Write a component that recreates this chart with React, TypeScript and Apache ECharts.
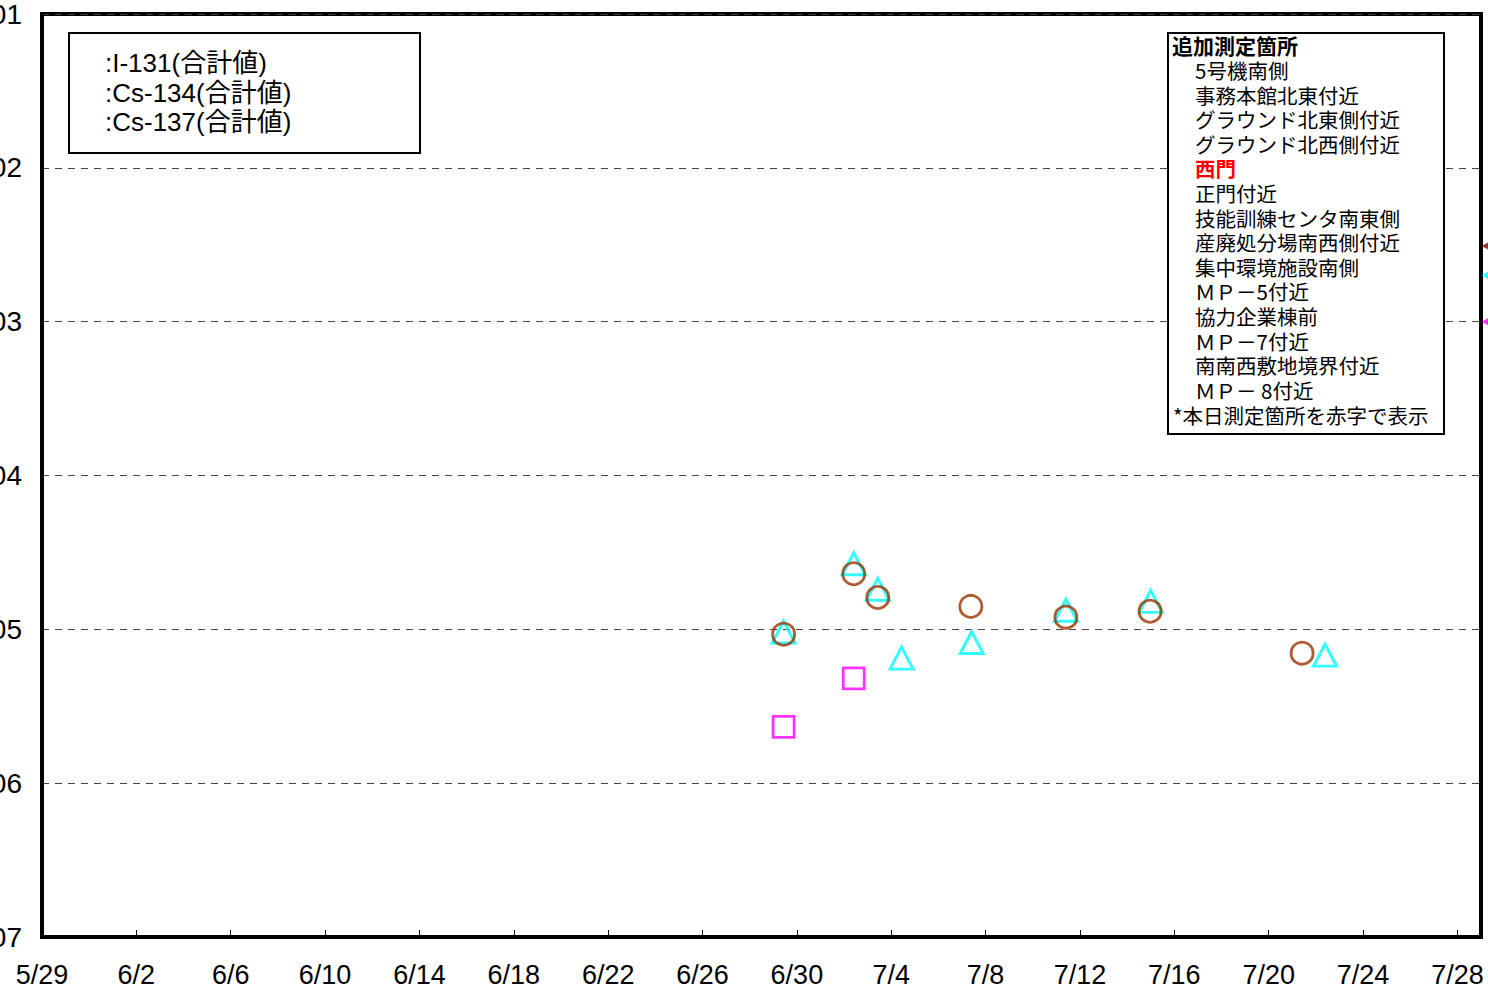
import { useEffect, useRef } from "react";
import * as echarts from "echarts";

// ---------- data ----------
const startDate = "2011-05-29";
const endDay = 61; // axis ends on 7/29
const tickStepDays = 4;
const yMin = 1e-7;
const yMax = 1e-1;

const nuclideNames = ["I-131(合計値)", "Cs-134(合計値)", "Cs-137(合計値)"];

// I-131 (brown circles)
const i131Times = [
  "2011-06-29T10:30", "2011-07-02T09:50", "2011-07-03T10:20", "2011-07-07T09:00",
  "2011-07-11T09:40", "2011-07-14T23:20", "2011-07-21T10:00",
];
const i131Values = [9.3e-6, 2.3e-5, 1.61e-5, 1.41e-5, 1.2e-5, 1.31e-5, 7.0e-6];

// Cs-134 (cyan triangles)
const cs134Times = [
  "2011-06-29T10:30", "2011-07-02T09:50", "2011-07-03T10:20", "2011-07-04T10:30",
  "2011-07-07T09:50", "2011-07-11T09:40", "2011-07-15T00:00", "2011-07-22T09:20",
];
const cs134Values = [9.6e-6, 2.67e-5, 1.82e-5, 6.5e-6, 8.2e-6, 1.33e-5, 1.52e-5, 6.8e-6];

// Cs-137 (magenta squares)
const cs137Times = ["2011-06-29T10:30", "2011-07-02T09:50"];
const cs137Values = [2.32e-6, 4.8e-6];

// small markers at the right edge of the plot
const edgeMarkerValues = [3.1e-3, 2.0e-3, 1.0e-3];
const edgeMarkerDay = 61.2;

const legendTitle = "追加測定箇所";
const sites = [
  "5号機南側",
  "事務本館北東付近",
  "グラウンド北東側付近",
  "グラウンド北西側付近",
  "西門",
  "正門付近",
  "技能訓練センタ南東側",
  "産廃処分場南西側付近",
  "集中環境施設南側",
  "ＭＰ－5付近",
  "協力企業棟前",
  "ＭＰ－7付近",
  "南南西敷地境界付近",
  "ＭＰ－ 8付近",
];
const todaySite = "西門";
const footnote = "*本日測定箇所を赤字で表示";

// ---------- helpers ----------
const BASE = Date.parse(startDate + "T00:00:00Z");
const toDay = (s: string) => (Date.parse(s + ":00Z") - BASE) / 86400000;
const pairs = (t: string[], v: number[]) => t.map((s, i) => [toDay(s), v[i]]);

const FF = '"Liberation Sans", "Noto Sans CJK JP", sans-serif';
const JP = '"Noto Sans CJK JP", sans-serif';
const OX = 100; // chart container is shifted left so the y labels are clipped like the reference

function fmtDate(v: number) {
  if (Math.abs(v % tickStepDays) > 1e-6) return "";
  const d = new Date(BASE + v * 86400000);
  return `${d.getUTCMonth() + 1}/${d.getUTCDate()}`;
}
function fmtExp(v: number) {
  const e = Math.round(Math.log10(v));
  return `1.E${e < 0 ? "-" : "+"}${String(Math.abs(e)).padStart(2, "0")}`;
}

export default function App() {
  const ref = useRef<HTMLDivElement>(null);
  useEffect(() => {
    if (!ref.current) return;
    const chart = echarts.init(ref.current, undefined, { renderer: "svg" });

    const graphic: any[] = [];
    // left legend box
    graphic.push({
      type: "rect",
      shape: { x: 69 + OX, y: 33, width: 351, height: 120 },
      style: { fill: "#fff", stroke: "#000", lineWidth: 2 },
      z: 100,
    });
    nuclideNames.forEach((n, i) => {
      graphic.push({
        type: "text",
        x: 105 + OX,
        y: 63 + i * 29.5,
        style: {
          text: ":" + n,
          fill: "#000",
          font: `26px ${FF}`,
          lineHeight: 26,
          align: "left",
          verticalAlign: "middle",
        },
        z: 101,
      });
    });
    // right legend box
    graphic.push({
      type: "rect",
      shape: { x: 1168 + OX, y: 33, width: 276, height: 401 },
      style: { fill: "#fff", stroke: "#000", lineWidth: 2 },
      z: 100,
    });
    graphic.push({
      type: "text",
      x: 1172 + OX,
      y: 45,
      style: {
        text: legendTitle,
        fill: "#000",
        font: `bold 21px ${JP}`,
        lineHeight: 22,
        align: "left",
        verticalAlign: "middle",
      },
      z: 101,
    });
    sites.forEach((s, i) => {
      const today = s === todaySite;
      graphic.push({
        type: "text",
        x: 1195 + OX,
        y: 70 + i * 24.6,
        style: {
          text: s,
          fill: today ? "#ff0000" : "#000",
          font: `${today ? "bold " : ""}20.5px ${JP}`,
          lineHeight: 22,
          align: "left",
          verticalAlign: "middle",
        },
        z: 101,
      });
    });
    graphic.push({
      type: "text",
      x: 1173 + OX,
      y: 415,
      style: {
        text: footnote,
        fill: "#000",
        font: `20.5px ${JP}`,
        lineHeight: 22,
        align: "left",
        verticalAlign: "middle",
      },
      z: 101,
    });

    const edgeColors = ["#800000", "#00ffff", "#ff00ff"];

    chart.setOption({
      animation: false,
      backgroundColor: "#fff",
      grid: {
        left: 42 + OX,
        right: 7,
        top: 11,
        bottom: 55,
        show: true,
        borderColor: "#000",
        borderWidth: 4,
        backgroundColor: "transparent",
      },
      xAxis: {
        type: "value",
        min: 0,
        max: endDay,
        interval: tickStepDays,
        axisLine: { show: true, onZero: false, lineStyle: { color: "#000", width: 4 } },
        axisTick: { show: true, inside: true, length: 7, lineStyle: { color: "#000", width: 1 } },
        splitLine: { show: false },
        axisLabel: {
          formatter: fmtDate,
          fontSize: 27,
          color: "#000",
          margin: 24,
          fontFamily: FF,
          showMaxLabel: false,
        },
      },
      yAxis: {
        type: "log",
        logBase: 10,
        min: yMin,
        max: yMax,
        axisLine: { show: true, lineStyle: { color: "#000", width: 4 } },
        axisTick: { show: false },
        splitLine: { show: true, lineStyle: { color: "#444", width: 1, type: [7, 6] } },
        axisLabel: { formatter: fmtExp, fontSize: 28, color: "#000", margin: 20, fontFamily: FF },
      },
      series: [
        {
          name: "Cs-134",
          type: "scatter",
          symbol: "triangle",
          symbolSize: [23, 22],
          data: pairs(cs134Times, cs134Values),
          itemStyle: { color: "rgba(0,0,0,0)", borderColor: "#00ffff", borderWidth: 3 },
          z: 3,
        },
        {
          name: "I-131",
          type: "scatter",
          symbol: "circle",
          symbolSize: 22,
          data: pairs(i131Times, i131Values),
          itemStyle: { color: "rgba(0,0,0,0)", borderColor: "#993300", borderWidth: 2.8 },
          z: 4,
        },
        {
          name: "Cs-137",
          type: "scatter",
          symbol: "rect",
          symbolSize: 21,
          data: pairs(cs137Times, cs137Values),
          itemStyle: { color: "rgba(0,0,0,0)", borderColor: "#ff00ff", borderWidth: 2.8 },
          z: 5,
        },
        {
          name: "edge",
          type: "scatter",
          symbol: "triangle",
          symbolRotate: 90,
          symbolSize: [9, 8],
          clip: false,
          data: edgeMarkerValues.map((v, i) => ({
            value: [edgeMarkerDay, v],
            itemStyle: { color: edgeColors[i] },
          })),
          z: 6,
        },
      ],
      graphic,
    });
    return () => chart.dispose();
  }, []);

  return (
    <div
      ref={ref}
      style={{ position: "absolute", left: -OX, top: 0, width: 1488 + OX, height: 992, overflow: "hidden" }}
    />
  );
}
